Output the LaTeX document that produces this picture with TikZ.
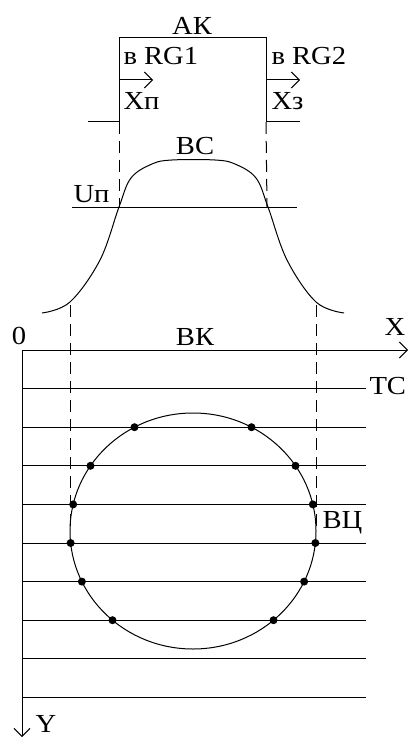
\documentclass[tikz,border=0pt]{standalone}
\usepackage{fontspec}
\newfontfamily\diagfont[FakeStretch=1.1]{Liberation Serif}
\usepackage{tikz}
\usetikzlibrary{arrows.meta}
\definecolor{ink}{HTML}{000000}

\begin{document}
\begin{tikzpicture}[
  x=1pt, y=-1pt,
  font=\diagfont\fontsize{26}{26}\selectfont,
  line width=1pt, draw=ink,
  lbl/.style={inner sep=0pt, anchor=base, text=ink},
  dashline/.style={draw=ink, line width=1pt, dash pattern=on 12pt off 7pt},
  arrow/.style={-{Straight Barb[length=8pt,width=16pt]}, draw=ink},
  scanline/.style={draw=ink, line width=1pt},
  dot/.style={circle, fill=ink, inner sep=0pt, minimum size=8pt}
]
\useasboundingbox (0,0) rectangle (410,738);

% gate pulse AK
\coordinate (p0) at (88,122);
\coordinate (p1) at (119,122);
\coordinate (p2) at (119,38);
\coordinate (p3) at (266,38);
\coordinate (p4) at (266,122);
\coordinate (p5) at (300,122);
\draw (p0) -- (p1) -- (p2) -- (p3) -- (p4) -- (p5);

\node[lbl] (ak) at (192,35) {АК};
\node[lbl, anchor=base west] (rg1) at (123,65) {в RG1};
\node[lbl, anchor=base west] (xp) at (123,110) {Хп};
\node[lbl, anchor=base west] (rg2) at (271,65) {в RG2};
\node[lbl, anchor=base west] (xz) at (271,110) {Хз};

\coordinate (a1) at (153,80);
\coordinate (a2) at (300,80);
\draw[arrow] (119,80) -- (a1);
\draw[arrow] (266,80) -- (a2);

% video signal BC and threshold
\draw plot[smooth, tension=0.6] coordinates {(42,313) (70,302) (100,260) (119,207) (131,178) (152,164) (172,160) (215,160) (235,164) (256,178) (268,207) (287,260) (316,302) (344,313)};
\coordinate (u0) at (72,207);
\coordinate (u1) at (297,207);
\draw (u0) -- (u1);
\node[lbl] (bc) at (195,155) {ВС};
\node[lbl, anchor=base west] (un) at (73,202) {Uп};

\draw[dashline] (p1) -- (119,207);
\draw[dashline] (p4) -- (267,207);

% field with scan lines
\coordinate (o) at (22,350);
\coordinate (xend) at (408,350);
\coordinate (yend) at (22,737);
\draw[arrow] (o) -- (xend);
\draw[arrow] (o) -- (yend);
\node[lbl] (zero) at (19,344) {0};
\node[lbl] (xl) at (395,335) {X};
\node[lbl, anchor=base west] (yl) at (35,732) {Y};
\node[lbl] (bk) at (195,345) {ВК};

\foreach \k in {1,...,9}
  \draw[scanline] (22,350+\k*38.6) -- (366,350+\k*38.6);
\node[lbl, anchor=base west] (tc) at (369,394) {ТС};

\draw[dashline] (70,305) -- (70,531);
\draw[dashline] (316,305) -- (316,531);

% object
\draw (193,531) ellipse [x radius=123, y radius=118];
\foreach \k in {2,...,7}{
  \pgfmathsetmacro{\yy}{350+\k*38.6}
  \pgfmathsetmacro{\dx}{123*sqrt(1-((\yy-531)/118)^2)}
  \node[dot] at (193-\dx,\yy) {};
  \node[dot] at (193+\dx,\yy) {};
}
\node[lbl, anchor=base west] (vc) at (322,528) {ВЦ};

\end{tikzpicture}
\end{document}
